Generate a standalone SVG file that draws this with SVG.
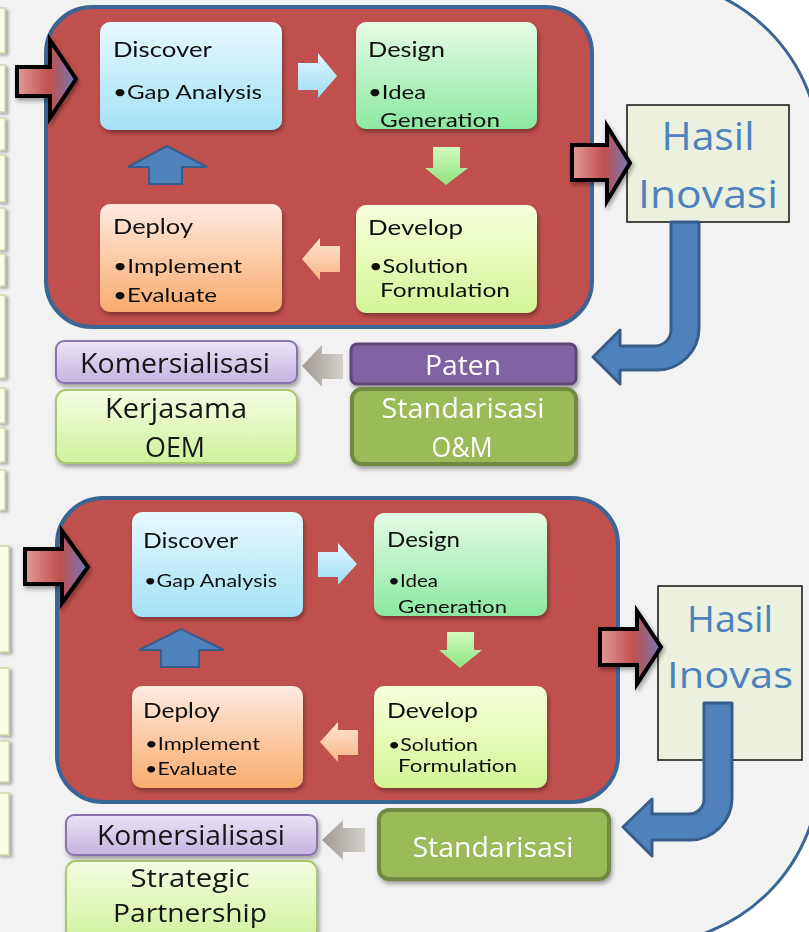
<svg xmlns="http://www.w3.org/2000/svg" width="809" height="932" viewBox="0 0 809 932">
<defs>
<style>
.cal{font-family:Lato,"Liberation Sans",sans-serif;fill:#111;}
.rnd{font-family:"Open Sans","DejaVu Sans",sans-serif;text-anchor:middle;}
.panel{fill:#c0504d;stroke:#3a6595;stroke-width:4;}
.side{fill:#fbfde9;stroke:#c4d49a;stroke-width:1.2;}
.bigarrow{fill:url(#gRB);stroke:#000;stroke-width:4;stroke-linejoin:miter;}
.curve{fill:#4f81bd;stroke:#385d8a;stroke-width:3;stroke-linejoin:round;}
.hasil{fill:#ebf1de;stroke:#111;stroke-width:1.5;}
</style>
<linearGradient id="gRB" x1="0" y1="0" x2="1" y2="0">
<stop offset="0" stop-color="#e39a98"/><stop offset="0.55" stop-color="#c0504d"/><stop offset="1" stop-color="#7379b8"/>
</linearGradient>
<linearGradient id="gDis" x1="0" y1="0" x2="0" y2="1"><stop offset="0" stop-color="#e6f9fe"/><stop offset="1" stop-color="#a4e1f6"/></linearGradient>
<linearGradient id="gDes" x1="0" y1="0" x2="0" y2="1"><stop offset="0" stop-color="#e4fce4"/><stop offset="1" stop-color="#8ce9a0"/></linearGradient>
<linearGradient id="gDev" x1="0" y1="0" x2="0" y2="1"><stop offset="0" stop-color="#f7ffdc"/><stop offset="1" stop-color="#d4f596"/></linearGradient>
<linearGradient id="gDep" x1="0" y1="0" x2="0" y2="1"><stop offset="0" stop-color="#feeadf"/><stop offset="1" stop-color="#f9ac6e"/></linearGradient>
<linearGradient id="gKom" x1="0" y1="0" x2="0" y2="1"><stop offset="0" stop-color="#ebe4f5"/><stop offset="1" stop-color="#c4b3e0"/></linearGradient>
<linearGradient id="gKer" x1="0" y1="0" x2="0" y2="1"><stop offset="0" stop-color="#f4fde2"/><stop offset="1" stop-color="#d0f19c"/></linearGradient>
<linearGradient id="gGray" x1="0" y1="0" x2="1" y2="0"><stop offset="0" stop-color="#a29a93"/><stop offset="1" stop-color="#d3cfca"/></linearGradient>
<linearGradient id="gArB" x1="0" y1="0" x2="0" y2="1"><stop offset="0" stop-color="#e4f7ff"/><stop offset="1" stop-color="#9cdbf5"/></linearGradient>
<linearGradient id="gArG" x1="0" y1="0" x2="0" y2="1"><stop offset="0" stop-color="#d2fac0"/><stop offset="1" stop-color="#8ee582"/></linearGradient>
<linearGradient id="gArP" x1="0" y1="0" x2="0" y2="1"><stop offset="0" stop-color="#ffe6d4"/><stop offset="1" stop-color="#f8b486"/></linearGradient>
<filter id="sh" x="-20%" y="-20%" width="140%" height="150%"><feDropShadow dx="1.5" dy="3" stdDeviation="2" flood-color="#000" flood-opacity="0.35"/></filter>
<filter id="shs" x="-50%" y="-20%" width="300%" height="140%"><feDropShadow dx="3" dy="2" stdDeviation="1.5" flood-color="#000" flood-opacity="0.3"/></filter>
</defs>
<rect x="0" y="0" width="809" height="932" fill="#ffffff"/>
<path id="background" d="M-20,-21 L644,-21 A176 176 0 0 1 820,155 L820,768 A176 176 0 0 1 644,944 L-20,944 Z" fill="#f2f2f2" stroke="#3a6595" stroke-width="3"/>

<g id="side-boxes" filter="url(#shs)">
<rect class="side" x="-3" y="8" width="8" height="45"/>
<rect class="side" x="-3" y="65" width="8" height="47"/>
<rect class="side" x="-3" y="118" width="8" height="32"/>
<rect class="side" x="-3" y="155" width="8" height="47"/>
<rect class="side" x="-3" y="208" width="8" height="42"/>
<rect class="side" x="-3" y="254" width="8" height="32"/>
<rect class="side" x="-3" y="295" width="8" height="83"/>
<rect class="side" x="-3" y="388" width="8" height="35"/>
<rect class="side" x="-3" y="428" width="8" height="34"/>
<rect class="side" x="-3" y="470" width="8" height="40"/>
<rect class="side" x="-3" y="546" width="12" height="106"/>
<rect class="side" x="-3" y="668" width="12" height="67"/>
<rect class="side" x="-3" y="741" width="12" height="41"/>
<rect class="side" x="-3" y="793" width="12" height="62"/>
</g>

<g id="panel-top"><rect class="panel" x="46" y="7" width="546" height="320" rx="46"/></g>
<g id="panel-bottom"><rect class="panel" x="57" y="498" width="561" height="304" rx="46"/></g>

<g id="discover-top" filter="url(#sh)">
<rect x="100" y="22" width="182" height="108" rx="10" fill="url(#gDis)"/>
<text class="cal" x="113" y="57" font-size="22" textLength="99" lengthAdjust="spacingAndGlyphs">Discover</text>
<text class="cal" x="113" y="99" font-size="20" textLength="149" lengthAdjust="spacingAndGlyphs">•Gap Analysis</text>
</g>
<g id="design-top" filter="url(#sh)">
<rect x="356" y="22" width="181" height="107" rx="10" fill="url(#gDes)"/>
<text class="cal" x="368" y="57" font-size="22" textLength="77" lengthAdjust="spacingAndGlyphs">Design</text>
<text class="cal" x="368" y="99" font-size="20" textLength="58" lengthAdjust="spacingAndGlyphs">•Idea</text>
<text class="cal" x="380" y="127" font-size="20" textLength="120" lengthAdjust="spacingAndGlyphs">Generation</text>
</g>
<g id="develop-top" filter="url(#sh)">
<rect x="356" y="205" width="181" height="108" rx="10" fill="url(#gDev)"/>
<text class="cal" x="368" y="235" font-size="22" textLength="95" lengthAdjust="spacingAndGlyphs">Develop</text>
<text class="cal" x="369" y="273" font-size="20" textLength="99" lengthAdjust="spacingAndGlyphs">•Solution</text>
<text class="cal" x="380" y="297" font-size="20" textLength="130" lengthAdjust="spacingAndGlyphs">Formulation</text>
</g>
<g id="deploy-top" filter="url(#sh)">
<rect x="100" y="204" width="182" height="108" rx="10" fill="url(#gDep)"/>
<text class="cal" x="113" y="234" font-size="22" textLength="80" lengthAdjust="spacingAndGlyphs">Deploy</text>
<text class="cal" x="113" y="273" font-size="20" textLength="129" lengthAdjust="spacingAndGlyphs">•Implement</text>
<text class="cal" x="113" y="302" font-size="20" textLength="104" lengthAdjust="spacingAndGlyphs">•Evaluate</text>
</g>

<g id="discover-bottom" filter="url(#sh)">
<rect x="132" y="512" width="171" height="105" rx="10" fill="url(#gDis)"/>
<text class="cal" x="143" y="548" font-size="22" textLength="95" lengthAdjust="spacingAndGlyphs">Discover</text>
<text class="cal" x="144" y="587" font-size="18" textLength="133" lengthAdjust="spacingAndGlyphs">•Gap Analysis</text>
</g>
<g id="design-bottom" filter="url(#sh)">
<rect x="374" y="513" width="173" height="103" rx="10" fill="url(#gDes)"/>
<text class="cal" x="387" y="547" font-size="22" textLength="73" lengthAdjust="spacingAndGlyphs">Design</text>
<text class="cal" x="388" y="587" font-size="18" textLength="50" lengthAdjust="spacingAndGlyphs">•Idea</text>
<text class="cal" x="398" y="613" font-size="18" textLength="109" lengthAdjust="spacingAndGlyphs">Generation</text>
</g>
<g id="develop-bottom" filter="url(#sh)">
<rect x="374" y="686" width="173" height="102" rx="10" fill="url(#gDev)"/>
<text class="cal" x="387" y="718" font-size="22" textLength="91" lengthAdjust="spacingAndGlyphs">Develop</text>
<text class="cal" x="388" y="751" font-size="18" textLength="90" lengthAdjust="spacingAndGlyphs">•Solution</text>
<text class="cal" x="398" y="772" font-size="18" textLength="119" lengthAdjust="spacingAndGlyphs">Formulation</text>
</g>
<g id="deploy-bottom" filter="url(#sh)">
<rect x="132" y="686" width="171" height="102" rx="10" fill="url(#gDep)"/>
<text class="cal" x="143" y="718" font-size="22" textLength="77" lengthAdjust="spacingAndGlyphs">Deploy</text>
<text class="cal" x="145" y="750" font-size="18" textLength="115" lengthAdjust="spacingAndGlyphs">•Implement</text>
<text class="cal" x="145" y="775" font-size="18" textLength="92" lengthAdjust="spacingAndGlyphs">•Evaluate</text>
</g>

<g id="hasil-top">
<rect class="hasil" x="627" y="105" width="162" height="117"/>
<text class="rnd" x="708" y="150" font-size="38" fill="#4f81bd" textLength="93" lengthAdjust="spacingAndGlyphs">Hasil</text>
<text class="rnd" x="708" y="208" font-size="38" fill="#4f81bd" textLength="140" lengthAdjust="spacingAndGlyphs">Inovasi</text>
</g>
<g id="hasil-bottom">
<rect class="hasil" x="658" y="586" width="144" height="174"/>
<text class="rnd" x="730" y="632" font-size="37" fill="#4f81bd" textLength="86" lengthAdjust="spacingAndGlyphs">Hasil</text>
<text class="rnd" x="730" y="688" font-size="37" fill="#4f81bd" textLength="126" lengthAdjust="spacingAndGlyphs">Inovas</text>
</g>

<g id="komersialisasi-top" filter="url(#sh)">
<rect x="56" y="341" width="241" height="42" rx="8" fill="url(#gKom)" stroke="#8a72b0" stroke-width="2"/>
<text class="rnd" x="175" y="373" font-size="27" fill="#151515" textLength="190" lengthAdjust="spacingAndGlyphs">Komersialisasi</text>
</g>
<g id="kerjasama" filter="url(#sh)">
<rect x="56" y="390" width="241" height="73" rx="10" fill="url(#gKer)" stroke="#a8c870" stroke-width="2"/>
<text class="rnd" x="176" y="418" font-size="27" fill="#151515" textLength="142" lengthAdjust="spacingAndGlyphs">Kerjasama</text>
<text class="rnd" x="175" y="457" font-size="27" fill="#151515" textLength="60" lengthAdjust="spacingAndGlyphs">OEM</text>
</g>
<g id="paten" filter="url(#sh)">
<rect x="351" y="344" width="225" height="40" rx="6" fill="#8064a2" stroke="#5c4776" stroke-width="3"/>
<text class="rnd" x="463" y="375" font-size="27" fill="#ffffff" textLength="76" lengthAdjust="spacingAndGlyphs">Paten</text>
</g>
<g id="standarisasi-om" filter="url(#sh)">
<rect x="352" y="389" width="224" height="75" rx="10" fill="#9bbb59" stroke="#71893f" stroke-width="4"/>
<text class="rnd" x="463" y="418" font-size="27" fill="#ffffff" textLength="163" lengthAdjust="spacingAndGlyphs">Standarisasi</text>
<text class="rnd" x="462" y="457" font-size="27" fill="#ffffff" textLength="61" lengthAdjust="spacingAndGlyphs">O&amp;M</text>
</g>

<g id="komersialisasi-bottom" filter="url(#sh)">
<rect x="66" y="815" width="251" height="40" rx="8" fill="url(#gKom)" stroke="#8a72b0" stroke-width="2"/>
<text class="rnd" x="191" y="845" font-size="27" fill="#151515" textLength="188" lengthAdjust="spacingAndGlyphs">Komersialisasi</text>
</g>
<g id="strategic" filter="url(#sh)">
<rect x="66" y="861" width="251" height="80" rx="10" fill="url(#gKer)" stroke="#a8c870" stroke-width="2"/>
<text class="rnd" x="190" y="887" font-size="26" fill="#151515" textLength="119" lengthAdjust="spacingAndGlyphs">Strategic</text>
<text class="rnd" x="190" y="922" font-size="26" fill="#151515" textLength="154" lengthAdjust="spacingAndGlyphs">Partnership</text>
</g>
<g id="standarisasi-bottom" filter="url(#sh)">
<rect x="379" y="810" width="230" height="69" rx="10" fill="#9bbb59" stroke="#71893f" stroke-width="4"/>
<text class="rnd" x="493" y="857" font-size="27" fill="#ffffff" textLength="161" lengthAdjust="spacingAndGlyphs">Standarisasi</text>
</g>

<g id="connectors">
<path class="bigarrow" filter="url(#sh)" d="M17,67 L50,67 L50,40 L76,79 L50,118 L50,96 L17,96 Z"/>
<path class="bigarrow" filter="url(#sh)" d="M572,145 L607,145 L607,126 L630,163 L607,201 L607,180 L572,180 Z"/>
<path class="bigarrow" filter="url(#sh)" d="M25,549 L62,549 L62,531 L88,567 L62,603 L62,584 L25,584 Z"/>
<path class="bigarrow" filter="url(#sh)" d="M600,629 L637,629 L637,611 L661,647 L637,684 L637,665 L600,665 Z"/>

<path class="curve" d="M671,222 L699,222 L699,328 A42 42 0 0 1 657,370 L620,370 L620,384 L593,357 L620,330 L620,346 L655,346 A16 16 0 0 0 671,330 Z"/>
<path class="curve" d="M704,703 L732,703 L732,798 A42 42 0 0 1 690,840 L652,840 L652,856 L623,827 L652,799 L652,814 L689,814 A15 15 0 0 0 704,799 Z"/>

<path fill="url(#gGray)" d="M343,354 L322,354 L322,345 L302,366 L322,387 L322,379 L343,379 Z"/>
<path fill="url(#gGray)" d="M365,828 L343,828 L343,820 L322,840 L343,860 L343,852 L365,852 Z"/>

<path fill="url(#gArB)" d="M298,63 L318,63 L318,53 L337,76 L318,98 L318,90 L298,90 Z"/>
<path fill="url(#gArB)" d="M318,552 L338,552 L338,543 L357,564 L338,585 L338,577 L318,577 Z"/>

<path fill="url(#gArG)" d="M433,147 L460,147 L460,168 L468,168 L446,185 L425,168 L433,168 Z"/>
<path fill="url(#gArG)" d="M447,632 L474,632 L474,650 L482,650 L460,668 L439,650 L447,650 Z"/>

<path fill="url(#gArP)" d="M340,246 L320,246 L320,238 L302,259 L320,280 L320,272 L340,272 Z"/>
<path fill="url(#gArP)" d="M358,730 L338,730 L338,722 L320,742 L338,762 L338,755 L358,755 Z"/>

<path fill="#4f81bd" stroke="#385d8a" stroke-width="2" d="M149,184 L182,184 L182,167 L207,167 L167,146 L128,167 L149,167 Z"/>
<path fill="#4f81bd" stroke="#385d8a" stroke-width="2" d="M161,667 L199,667 L199,650 L224,650 L181,629 L139,650 L161,650 Z"/>
</g>
</svg>
